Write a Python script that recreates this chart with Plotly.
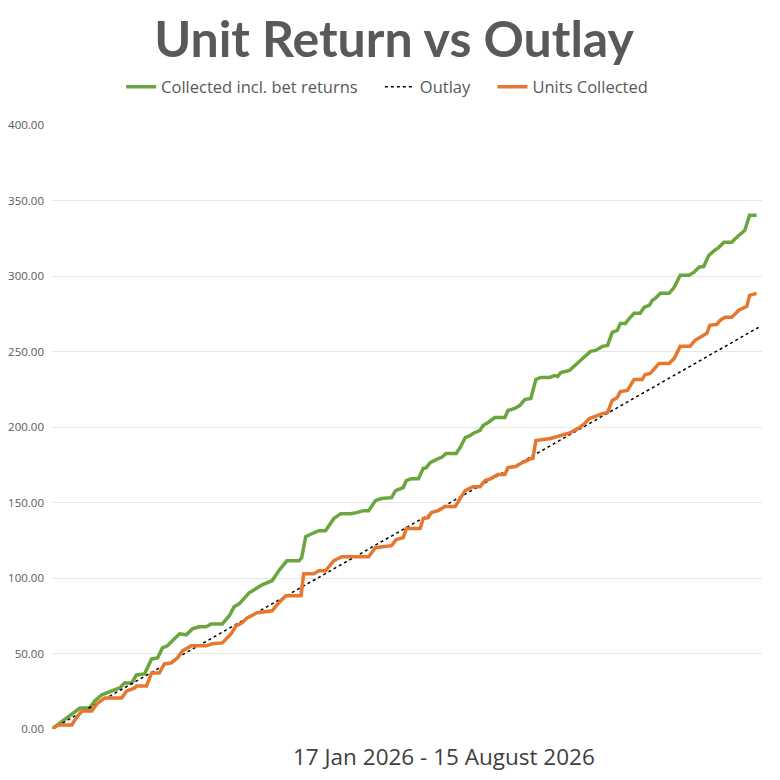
import plotly.graph_objects as go

# Days since 17 Jan 2026 and cumulative values
green_days = [0, 8.3, 11.2, 12.7, 14.8, 20.1, 21.6, 23.7, 25.1, 27.5, 29.6, 31.4, 32.8, 34.3, 35.8,
              37.9, 39.9, 41.7, 43.8, 45.8, 47.3, 50.6, 52.7, 54.1, 55.6, 58.6, 60.6, 62.4, 65.4,
              67.4, 69.8, 73.4, 74.2, 75.4, 77.2, 79.3, 81.3, 83.7, 85.8, 88.7, 90.5, 92.6, 94.1,
              96.1, 97.9, 100.9, 102.1, 104.4, 105.3, 106.8, 108.9, 110.3, 111.2, 112.4, 114.8,
              115.7, 117.1, 120.1, 121.3, 122.8, 124.2, 125.1, 127.2, 128.1, 129.6, 131.6, 134.6,
              135.5, 137.5, 139.0, 140.5, 142.3, 143.8, 145.2, 147.9, 149.4, 150.3, 151.2, 153.8,
              155.6, 157.7, 160.0, 161.5, 163.6, 165.1, 166.5, 168.0, 168.9, 170.4, 171.6, 173.0,
              174.8, 176.0, 177.5, 178.4, 179.3, 180.8, 183.4, 184.9, 186.7, 189.3, 190.8, 192.3,
              193.7, 195.2, 197.0, 198.2, 199.7, 202.0, 203.5, 205.0, 205.9, 207.3, 209.4]
green_vals = [0, 13.9, 13.9, 18.6, 22.6, 27.2, 30.5, 30.5, 35.8, 36.5, 46.4, 47.1, 53.7, 55.1, 58.4,
              63.0, 62.4, 66.3, 67.7, 67.7, 69.6, 69.6, 75.0, 80.9, 82.9, 90.2, 92.9, 95.5, 98.2,
              104.8, 111.4, 111.4, 113.4, 127.4, 129.3, 131.3, 131.3, 139.3, 142.6, 142.6, 143.3, 144.6, 144.6,
              151.2, 152.6, 153.2, 157.9, 159.9, 164.5, 165.8, 165.8, 172.5, 173.1, 176.4, 179.1,
              179.8, 182.4, 182.4, 186.4, 193.0, 194.3, 195.7, 197.7, 201.0, 203.0, 206.3, 206.3,
              210.9, 212.3, 214.2, 218.2, 218.9, 231.5, 232.8, 232.8, 234.1, 233.5, 236.1, 237.5,
              240.8, 245.4, 250.1, 250.7, 253.4, 254.0, 262.7, 264.0, 268.6, 268.6, 272.0, 275.3,
              275.3, 279.3, 280.6, 283.9, 285.2, 288.5, 288.5, 292.5, 300.5, 300.5, 302.5, 305.8,
              306.4, 313.7, 317.1, 319.0, 322.4, 322.4, 325.7, 329.0, 330.3, 340.3, 340.3]

orange_days = [0, 1.8, 5.9, 7.4, 8.9, 11.8, 13.3, 15.7, 20.7, 22.2, 24.6, 25.1, 28.1, 29.6, 31.9,
               33.4, 35.5, 37.3, 38.8, 41.4, 45.8, 47.6, 50.6, 53.2, 54.7, 56.5, 58.0, 60.9, 65.4,
               67.4, 69.5, 74.0, 74.8, 77.8, 79.3, 81.3, 83.7, 86.1, 94.1, 96.1, 100.9, 102.3, 104.4,
               105.3, 109.4, 110.3, 111.8, 112.7, 114.8, 116.8, 119.8, 121.3, 122.8, 125.1, 127.2,
               128.7, 130.4, 132.5, 134.6, 135.5, 137.8, 139.3, 142.3, 142.9, 143.8, 148.2, 151.2,
               154.1, 156.8, 158.3, 159.7, 161.2, 163.6, 165.1, 166.5, 168.0, 168.9, 171.0, 173.0,
               175.4, 176.3, 177.8, 179.0, 180.4, 183.4, 184.9, 186.7, 189.6, 191.1, 193.2, 194.6,
               195.5, 197.6, 198.5, 200.0, 202.0, 204.1, 205.9, 206.5, 207.3, 209.4]
orange_vals = [0, 2.7, 2.7, 8.0, 11.9, 11.9, 16.6, 20.6, 20.6, 25.2, 27.2, 28.5, 28.5, 37.1, 37.1,
               43.1, 43.8, 47.1, 51.7, 55.1, 55.1, 56.4, 57.0, 63.0, 68.3, 70.3, 73.6, 77.0, 78.3,
               83.6, 88.2, 88.2, 102.8, 102.8, 104.8, 104.8, 111.4, 114.1, 114.1, 120.1, 121.4, 125.4, 126.7,
               132.7, 132.7, 139.3, 140.0, 143.3, 144.6, 147.3, 147.3, 152.6, 157.9, 160.5, 160.5,
               164.5, 165.8, 168.5, 168.5, 173.1, 173.8, 175.8, 179.1, 179.1, 191.0, 192.4, 194.3,
               196.3, 199.7, 202.3, 205.6, 207.0, 208.9, 209.6, 217.6, 219.6, 223.5, 224.2, 231.5,
               231.5, 234.8, 235.5, 238.8, 242.1, 242.1, 245.4, 253.4, 253.4, 257.4, 260.0, 262.0,
               267.3, 268.0, 270.6, 272.6, 272.6, 277.3, 279.3, 279.9, 287.2, 288.5]

outlay_days = [0, 50, 100, 150, 210]
outlay_vals = [0, 63.3, 126.7, 190.0, 266.0]

y_ticks = [0, 50, 100, 150, 200, 250, 300, 350, 400]
y_labels = ["0.00", "50.00", "100.00", "150.00", "200.00", "250.00", "300.00", "350.00", "400.00"]

GAP = "\u00a0" * 4

fig = go.Figure()
fig.add_trace(go.Scatter(x=green_days, y=green_vals, mode="lines",
                         name="Collected incl. bet returns" + GAP,
                         line=dict(color="#6BA53D", width=3.5)))
fig.add_trace(go.Scatter(x=outlay_days, y=outlay_vals, mode="lines", name="Outlay" + GAP,
                         line=dict(color="#000000", width=1.5, dash="dot")))
fig.add_trace(go.Scatter(x=orange_days, y=orange_vals, mode="lines", name="Units Collected",
                         line=dict(color="#E5772F", width=3.5)))

fig.update_layout(
    width=772, height=772,
    margin=dict(l=44, r=18, t=117, b=51, autoexpand=False),
    paper_bgcolor="white", plot_bgcolor="white",
    title=dict(text="<b>Unit Return vs Outlay</b>", x=0.5, xanchor="center",
               y=1 - 31 / 772, yanchor="middle", yref="container", automargin=False,
               font=dict(family="Lato", size=50, color="#595959", weight=900)),
    legend=dict(orientation="h", x=0.472, xanchor="center", y=1.063, yanchor="middle",
                font=dict(family="Open Sans", size=16.5, color="#595959"),
                itemwidth=30, tracegroupgap=0),
    showlegend=True,
    annotations=[dict(text="17 Jan 2026 - 15 August 2026", xref="paper", yref="paper",
                      x=0.552, y=-0.045, xanchor="center", yanchor="middle", showarrow=False,
                      font=dict(family="Open Sans", size=22.5, color="#404040"))],
)
fig.update_xaxes(range=[0, 211], showticklabels=False, showgrid=False, zeroline=False,
                 showline=False, ticks="", automargin=False)
fig.update_yaxes(range=[0, 400], tickvals=y_ticks, ticktext=y_labels, showgrid=True,
                 gridcolor="#E6E6E6", gridwidth=1, zeroline=False, showline=False, automargin=False,
                 tickfont=dict(family="Open Sans", size=11.5, color="#595959"), ticklabelstandoff=7)

fig.write_html("out.html")
